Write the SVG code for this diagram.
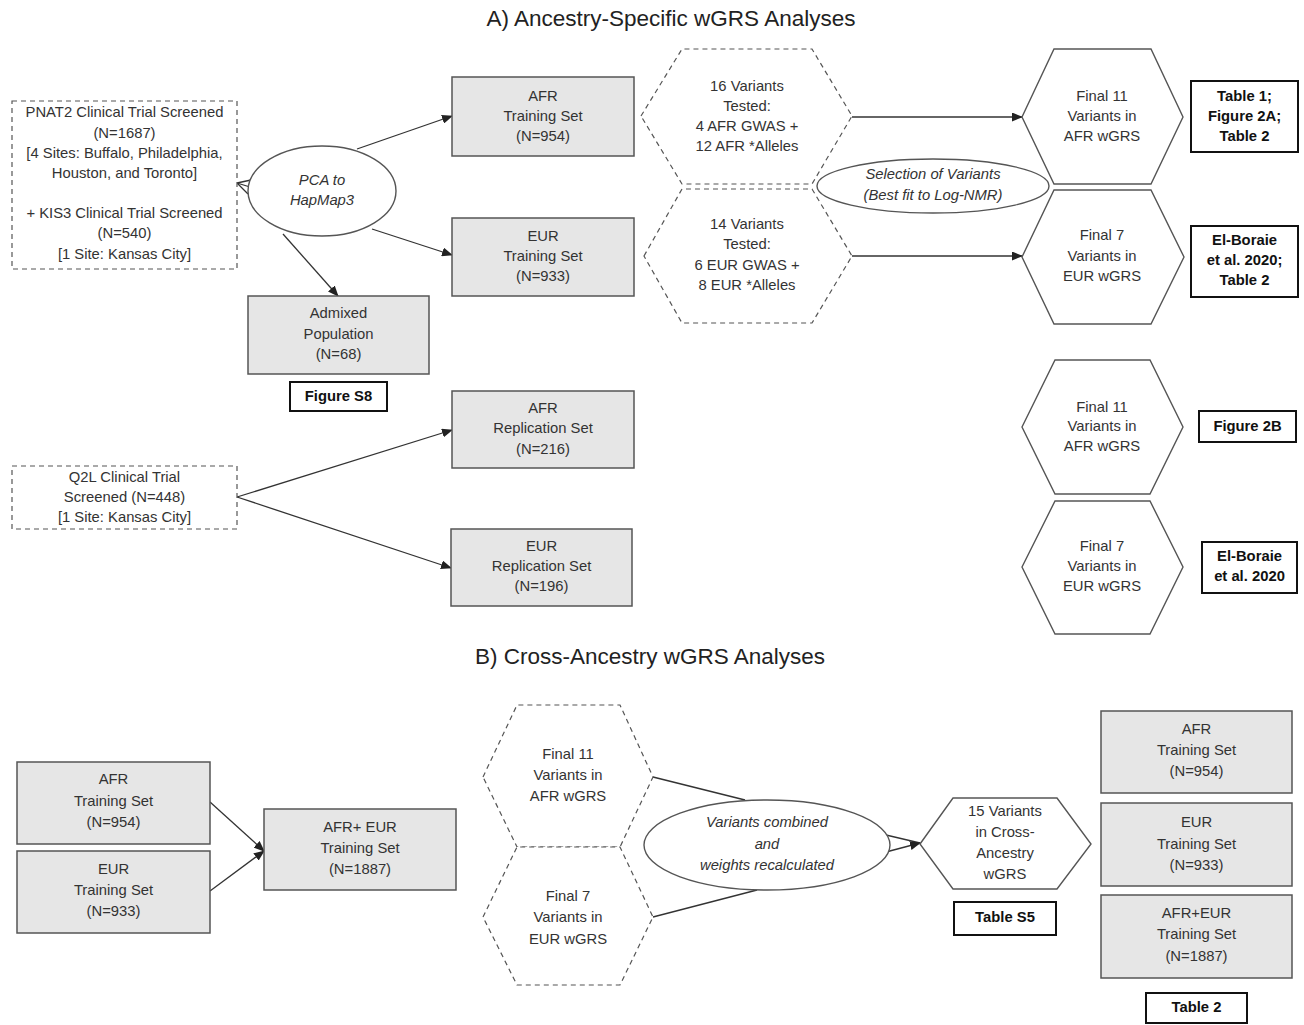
<svg xmlns="http://www.w3.org/2000/svg" width="1304" height="1025" viewBox="0 0 1304 1025">
<style>
text{font-family:"Liberation Sans",Arial,sans-serif;font-size:14.8px;fill:#333;text-anchor:middle;dominant-baseline:middle}
.title{font-size:22.5px;fill:#222}
.it{font-style:italic}
.b{font-weight:bold;fill:#111}
.grey{fill:#e6e6e6;stroke:#555;stroke-width:1.5}
.dash{fill:#fff;stroke:#555;stroke-width:1.2;stroke-dasharray:5,4}
.hex{fill:#fff;stroke:#555;stroke-width:1.4}
.ref{fill:#fff;stroke:#111;stroke-width:2}
.ell{fill:#fff;stroke:#555;stroke-width:1.4}
.con line,.con path{stroke:#333;stroke-width:1.3;fill:none}
</style>
<defs>
<marker id="ah" markerUnits="userSpaceOnUse" markerWidth="11" markerHeight="9" refX="10" refY="4.5" orient="auto">
<path d="M0,0 L11,4.5 L0,9 z" fill="#222"/>
</marker>
</defs>
<rect width="1304" height="1025" fill="#fff"/>
<text class="title" x="671" y="20">A) Ancestry-Specific wGRS Analyses</text>
<text class="title" x="650" y="658">B) Cross-Ancestry wGRS Analyses</text>

<g class="con">
<line x1="237" y1="183" x2="251" y2="180"/>
<line x1="237" y1="183" x2="248" y2="194"/>
<line x1="237" y1="183" x2="250" y2="187"/>
<line x1="357" y1="149" x2="452" y2="116" marker-end="url(#ah)"/>
<line x1="372" y1="229" x2="452" y2="255" marker-end="url(#ah)"/>
<line x1="283" y1="234" x2="338" y2="296" marker-end="url(#ah)"/>
<line x1="852" y1="117" x2="1022" y2="117" marker-end="url(#ah)"/>
<line x1="852" y1="256" x2="1022" y2="256" marker-end="url(#ah)"/>
<line x1="237" y1="497" x2="452" y2="430" marker-end="url(#ah)"/>
<line x1="237" y1="497" x2="451" y2="568" marker-end="url(#ah)"/>
<line x1="210" y1="802" x2="264" y2="851" marker-end="url(#ah)"/>
<line x1="210" y1="891" x2="264" y2="851" marker-end="url(#ah)"/>
<line x1="653" y1="777" x2="745" y2="800"/>
<line x1="653" y1="917" x2="757" y2="890"/>
<line x1="886" y1="835" x2="920" y2="843"/>
<line x1="886" y1="852" x2="920" y2="843" marker-end="url(#ah)"/>
</g>

<g id="pnat">
<rect class="dash" x="12" y="101" width="225" height="168"/>
<text x="124.5" y="113">PNAT2 Clinical Trial Screened</text>
<text x="124.5" y="134">(N=1687)</text>
<text x="124.5" y="154">[4 Sites: Buffalo, Philadelphia,</text>
<text x="124.5" y="174">Houston, and Toronto]</text>
<text x="124.5" y="214">+ KIS3 Clinical Trial Screened</text>
<text x="124.5" y="234">(N=540)</text>
<text x="124.5" y="255">[1 Site: Kansas City]</text>
</g>
<g id="pca">
<ellipse class="ell" cx="322" cy="191" rx="74" ry="45"/>
<text class="it" x="322" y="181">PCA to</text>
<text class="it" x="322" y="201">HapMap3</text>
</g>
<g id="afr-train">
<rect class="grey" x="452" y="77" width="182" height="79"/>
<text x="543" y="97">AFR</text>
<text x="543" y="117">Training Set</text>
<text x="543" y="137">(N=954)</text>
</g>
<g id="eur-train">
<rect class="grey" x="452" y="218" width="182" height="78"/>
<text x="543" y="237">EUR</text>
<text x="543" y="257">Training Set</text>
<text x="543" y="277">(N=933)</text>
</g>
<g id="admixed">
<rect class="grey" x="248" y="296" width="181" height="78"/>
<text x="338.5" y="314">Admixed</text>
<text x="338.5" y="335">Population</text>
<text x="338.5" y="355">(N=68)</text>
</g>
<g id="figS8">
<rect class="ref" x="290" y="382" width="97" height="29"/>
<text class="b" x="338.5" y="397">Figure S8</text>
</g>
<g id="hex16">
<polygon class="dash" points="641,116 682,49 812,49 852,116 812,184 682,184"/>
<text x="747" y="87">16 Variants</text>
<text x="747" y="107">Tested:</text>
<text x="747" y="127">4 AFR GWAS +</text>
<text x="747" y="147">12 AFR *Alleles</text>
</g>
<g id="hex14">
<polygon class="dash" points="644,256 682,189 812,189 852,256 812,323 682,323"/>
<text x="747" y="225">14 Variants</text>
<text x="747" y="245">Tested:</text>
<text x="747" y="266">6 EUR GWAS +</text>
<text x="747" y="286">8 EUR *Alleles</text>
</g>
<g id="selection">
<ellipse class="ell" cx="933" cy="186" rx="116" ry="27"/>
<text class="it" x="933" y="175">Selection of Variants</text>
<text class="it" x="933" y="196">(Best fit to Log-NMR)</text>
</g>
<g id="final11a">
<polygon class="hex" points="1022,117 1054,49 1151,49 1183,117 1151,184 1054,184"/>
<text x="1102" y="97">Final 11</text>
<text x="1102" y="117">Variants in</text>
<text x="1102" y="137">AFR wGRS</text>
</g>
<g id="final7a">
<polygon class="hex" points="1022,257 1054,190 1151,190 1184,257 1151,324 1054,324"/>
<text x="1102" y="236">Final 7</text>
<text x="1102" y="257">Variants in</text>
<text x="1102" y="277">EUR wGRS</text>
</g>
<g id="ref-table1">
<rect class="ref" x="1191" y="81" width="107" height="71"/>
<text class="b" x="1244.5" y="97">Table 1;</text>
<text class="b" x="1244.5" y="117">Figure 2A;</text>
<text class="b" x="1244.5" y="137">Table 2</text>
</g>
<g id="ref-elb1">
<rect class="ref" x="1191" y="226" width="107" height="71"/>
<text class="b" x="1244.5" y="241">El-Boraie</text>
<text class="b" x="1244.5" y="261">et al. 2020;</text>
<text class="b" x="1244.5" y="281">Table 2</text>
</g>
<g id="q2l">
<rect class="dash" x="12" y="466" width="225" height="63"/>
<text x="124.5" y="478">Q2L Clinical Trial</text>
<text x="124.5" y="498">Screened (N=448)</text>
<text x="124.5" y="518">[1 Site: Kansas City]</text>
</g>
<g id="afr-rep">
<rect class="grey" x="452" y="391" width="182" height="77"/>
<text x="543" y="409">AFR</text>
<text x="543" y="429">Replication Set</text>
<text x="543" y="450">(N=216)</text>
</g>
<g id="eur-rep">
<rect class="grey" x="451" y="529" width="181" height="77"/>
<text x="541.5" y="547">EUR</text>
<text x="541.5" y="567">Replication Set</text>
<text x="541.5" y="587">(N=196)</text>
</g>
<g id="final11b">
<polygon class="hex" points="1022,427 1055,360 1150,360 1183,427 1150,494 1055,494"/>
<text x="1102" y="408">Final 11</text>
<text x="1102" y="427">Variants in</text>
<text x="1102" y="447">AFR wGRS</text>
</g>
<g id="final7b">
<polygon class="hex" points="1022,567 1055,501 1150,501 1183,567 1150,634 1055,634"/>
<text x="1102" y="547">Final 7</text>
<text x="1102" y="567">Variants in</text>
<text x="1102" y="587">EUR wGRS</text>
</g>
<g id="ref-fig2b">
<rect class="ref" x="1199" y="411" width="97" height="31"/>
<text class="b" x="1247.5" y="427">Figure 2B</text>
</g>
<g id="ref-elb2">
<rect class="ref" x="1202" y="542" width="95" height="51"/>
<text class="b" x="1249.5" y="557">El-Boraie</text>
<text class="b" x="1249.5" y="577">et al. 2020</text>
</g>

<g id="b-afr">
<rect class="grey" x="17" y="762" width="193" height="82"/>
<text x="113.5" y="780">AFR</text>
<text x="113.5" y="802">Training Set</text>
<text x="113.5" y="823">(N=954)</text>
</g>
<g id="b-eur">
<rect class="grey" x="17" y="851" width="193" height="82"/>
<text x="113.5" y="870">EUR</text>
<text x="113.5" y="891">Training Set</text>
<text x="113.5" y="912">(N=933)</text>
</g>
<g id="b-afreur">
<rect class="grey" x="264" y="809" width="192" height="81"/>
<text x="360" y="828">AFR+ EUR</text>
<text x="360" y="849">Training Set</text>
<text x="360" y="870">(N=1887)</text>
</g>
<g id="b-hex11">
<polygon class="dash" points="483,777 517,705 620,705 653,777 620,847 517,847"/>
<text x="568" y="755">Final 11</text>
<text x="568" y="776">Variants in</text>
<text x="568" y="797">AFR wGRS</text>
</g>
<g id="b-hex7">
<polygon class="dash" points="483,917 517,847 620,847 653,917 620,985 517,985"/>
<text x="568" y="897">Final 7</text>
<text x="568" y="918">Variants in</text>
<text x="568" y="940">EUR wGRS</text>
</g>
<g id="combined">
<ellipse class="ell" cx="767" cy="845" rx="123" ry="45"/>
<text class="it" x="767" y="823">Variants combined</text>
<text class="it" x="767" y="845">and</text>
<text class="it" x="767" y="866">weights recalculated</text>
</g>
<g id="hex15">
<polygon class="hex" points="920,844 953,798 1057,798 1091,844 1057,889 953,889"/>
<text x="1005" y="812">15 Variants</text>
<text x="1005" y="833">in Cross-</text>
<text x="1005" y="854">Ancestry</text>
<text x="1005" y="875">wGRS</text>
</g>
<g id="ref-s5">
<rect class="ref" x="954" y="902" width="102" height="33"/>
<text class="b" x="1005" y="918">Table S5</text>
</g>
<g id="r-afr">
<rect class="grey" x="1101" y="711" width="191" height="82"/>
<text x="1196.5" y="730">AFR</text>
<text x="1196.5" y="751">Training Set</text>
<text x="1196.5" y="772">(N=954)</text>
</g>
<g id="r-eur">
<rect class="grey" x="1101" y="803" width="191" height="83"/>
<text x="1196.5" y="823">EUR</text>
<text x="1196.5" y="845">Training Set</text>
<text x="1196.5" y="866">(N=933)</text>
</g>
<g id="r-afreur">
<rect class="grey" x="1101" y="895" width="191" height="83"/>
<text x="1196.5" y="914">AFR+EUR</text>
<text x="1196.5" y="935">Training Set</text>
<text x="1196.5" y="957">(N=1887)</text>
</g>
<g id="ref-t2">
<rect class="ref" x="1146" y="993" width="101" height="30"/>
<text class="b" x="1196.5" y="1008">Table 2</text>
</g>
</svg>
